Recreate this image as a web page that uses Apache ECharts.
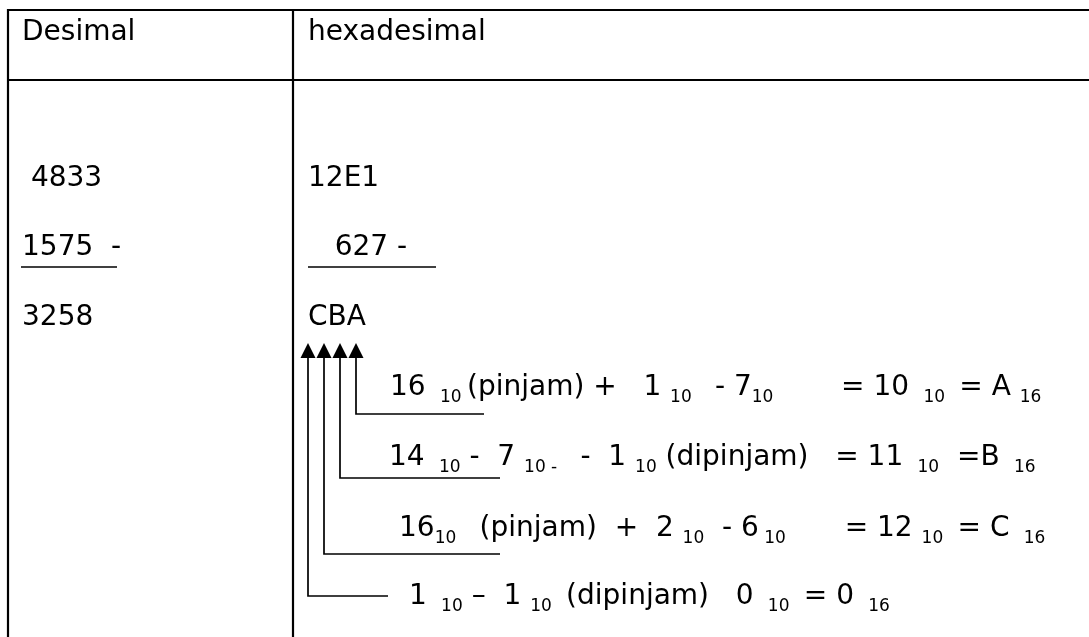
<!DOCTYPE html>
<html><head><meta charset="utf-8">
<script src="https://cdn.jsdelivr.net/npm/echarts@6/dist/echarts.min.js"></script>
<style>html,body{margin:0;padding:0;background:#fff}#c{width:1089px;height:637px}</style>
</head><body><div id="c"></div>
<script>
// ---- content ----
const headers = ['Desimal', 'hexadesimal'];
const decimalColumn = [' 4833', '1575  -', '3258'];
const hexColumn = ['12E1', '   627 -', 'CBA'];
// {..} marks a subscript
const borrowSteps = [
  '16 { 10 }(pinjam) +   1 {10 }  - 7{10 }       = 10 { 10 } = A {16}',
  '14 { 10} -  7 {10 - }  -  1 {10} (dipinjam)   = 11 { 10}  =B { 16}',
  '16{10 }  (pinjam)  +  2 {10}  - 6{ 10 }      = 12 {10 } = C { 16}',
  '1 { 10} \u2013  1 {10 } (dipinjam)   0 { 10 } = 0 { 16}'
];

// ---- layout ----
const FONT = '"DejaVu Sans", Verdana, sans-serif';
const MAIN = 28, SUB = 17;
const T = {
  left: 8, top: 10, headerBottom: 80, divider: 293, right: 1089, bottom: 637,
  col1X: 22, col2X: 308, headerBase: 38,
  rowBase: [184, 253, 323], underlineY: 267,
  underline1: [21, 117], underline2: [308, 436],
  arrowTop: 343, arrowHead: 15, arrowHalf: 7.5,
  arrowX0: 308, arrowStep: 16,
  stepX: [390, 389, 399, 409], stepBase: [393, 463, 534, 602],
  elbowY: [414, 478, 554, 596], elbowEnd: [484, 500, 500, 388]
};

function toRich(str) {
  let out = '';
  const re = /\{([^}]*)\}/g;
  let last = 0, m;
  while ((m = re.exec(str)) !== null) {
    if (m.index > last) out += '{n|' + str.slice(last, m.index) + '}';
    out += '{s|' + m[1] + '}';
    last = re.lastIndex;
  }
  if (last < str.length) out += '{n|' + str.slice(last) + '}';
  return out;
}
const rich = {
  n: { fontFamily: FONT, fontSize: MAIN, lineHeight: 36, fill: '#000', verticalAlign: 'middle' },
  s: { fontFamily: FONT, fontSize: SUB, lineHeight: 18, fill: '#000', verticalAlign: 'bottom' }
};
const BASE_OFF = 23;
function txt(x, baseline, str) {
  return { type: 'text', x: x, y: baseline - BASE_OFF, silent: true,
    style: { text: toRich(str), rich: rich, verticalAlign: 'top', align: 'left' } };
}
function ln(x1, y1, x2, y2, w) {
  return { type: 'line', silent: true, shape: { x1, y1, x2, y2 }, style: { stroke: '#000', lineWidth: w } };
}

const els = [];
// table grid
els.push(ln(T.left, T.top, T.right, T.top, 2.2));
els.push(ln(T.left, T.headerBottom, T.right, T.headerBottom, 2.2));
els.push(ln(T.left, T.top - 1, T.left, T.bottom, 2.2));
els.push(ln(T.divider, T.top - 1, T.divider, T.bottom, 2.2));
// headers
els.push(txt(T.col1X, T.headerBase, headers[0]));
els.push(txt(T.col2X, T.headerBase, headers[1]));
// columns
decimalColumn.forEach((s, i) => els.push(txt(T.col1X, T.rowBase[i], s)));
hexColumn.forEach((s, i) => els.push(txt(T.col2X, T.rowBase[i], s)));
els.push(ln(T.underline1[0], T.underlineY, T.underline1[1], T.underlineY, 1.6));
els.push(ln(T.underline2[0], T.underlineY, T.underline2[1], T.underlineY, 1.6));
// borrow steps with arrows
borrowSteps.forEach((s, i) => {
  const ax = T.arrowX0 + T.arrowStep * (borrowSteps.length - 1 - i);
  els.push({ type: 'polyline', silent: true,
    shape: { points: [[ax, T.arrowTop + T.arrowHead - 2], [ax, T.elbowY[i]], [T.elbowEnd[i], T.elbowY[i]]] },
    style: { stroke: '#000', lineWidth: 1.7, fill: null } });
  els.push({ type: 'polygon', silent: true,
    shape: { points: [[ax, T.arrowTop], [ax - T.arrowHalf, T.arrowTop + T.arrowHead], [ax + T.arrowHalf, T.arrowTop + T.arrowHead]] },
    style: { fill: '#000' } });
  els.push(txt(T.stepX[i], T.stepBase[i], s));
});

const chart = echarts.init(document.getElementById('c'), null, { renderer: 'canvas' });
chart.setOption({ backgroundColor: '#fff', animation: false, graphic: { elements: els } });
</script></body></html>
